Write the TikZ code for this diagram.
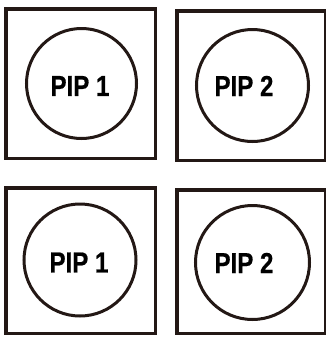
\documentclass[tikz,border=0pt]{standalone}
\usepackage{fontspec}
\setsansfont{Liberation Sans}[FakeStretch=0.83,FakeBold=0.6]
\definecolor{ink}{HTML}{231815}
\begin{document}
\begin{tikzpicture}[x=1pt,y=-1pt,
    box/.style={draw=ink, line width=3.5pt},
    ring/.style={draw=ink, line width=3pt},
    pip/.style={font=\sffamily\bfseries\fontsize{29}{29}\selectfont, text=black, inner sep=0pt}]
    \useasboundingbox (0,0) rectangle (326,338);
    \clip (0,0) rectangle (326,338);
    % top row
    \draw[box] (5.75,8.75) rectangle (155.25,158.25);
    \draw[ring] (81.5,83.5) circle (55);
    \node[pip] (pipA) at (80,86) {PIP 1};
    \draw[box] (176.75,10.75) rectangle (325.25,160.25);
    \draw[ring] (252.5,85.5) circle (56);
    \node[pip] (pipB) at (244,86) {PIP 2};
    % bottom row
    \draw[box] (5.75,187.75) rectangle (155.25,333.25);
    \draw[ring] (80,260) circle (56);
    \node[pip] (pipC) at (79,262.5) {PIP 1};
    \draw[box] (176.75,189.75) rectangle (325.25,333.25);
    \draw[ring] (252.5,262.5) circle (57);
    \node[pip] (pipD) at (244,263) {PIP 2};
\end{tikzpicture}
\end{document}
